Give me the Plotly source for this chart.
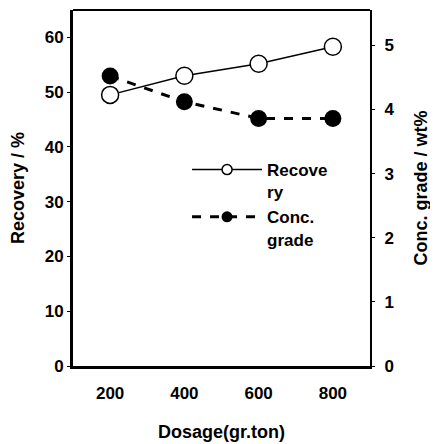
import plotly.graph_objects as go

dosage = [200, 400, 600, 800]
recovery = [49.5, 53.0, 55.2, 58.3]
conc_grade = [4.52, 4.12, 3.86, 3.86]

x_ticks = [200, 400, 600, 800]
left_ticks = [0, 10, 20, 30, 40, 50, 60]
right_ticks = [0, 1, 2, 3, 4, 5]

FONT = "Liberation Sans"

fig = go.Figure()
fig.add_trace(go.Scatter(
    x=dosage, y=recovery, name="Recovery", mode="lines+markers", showlegend=False,
    line=dict(color="black", width=1.5),
    marker=dict(symbol="circle", size=17, color="white", line=dict(color="black", width=1.5)),
))
fig.add_trace(go.Scatter(
    x=dosage, y=conc_grade, name="Conc. grade", mode="lines+markers", yaxis="y2", showlegend=False,
    line=dict(color="black", width=3, dash="dash"),
    marker=dict(symbol="circle", size=17, color="black"),
))
# legend-only entries (smaller symbols, as in the reference legend)
fig.add_trace(go.Scatter(
    x=[None], y=[None], name="<b>Recove<br>ry</b>", mode="lines+markers",
    line=dict(color="black", width=1.5),
    marker=dict(symbol="circle", size=10, color="white", line=dict(color="black", width=1.5)),
))
fig.add_trace(go.Scatter(
    x=[None], y=[None], name="<b>Conc.<br>grade</b>", mode="lines+markers", yaxis="y2",
    line=dict(color="black", width=3, dash="dash"),
    marker=dict(symbol="circle", size=11, color="black"),
))

fig.update_layout(
    width=430, height=436,
    margin=dict(l=65, r=68, t=2, b=78),
    paper_bgcolor="white", plot_bgcolor="white",
    font=dict(family=FONT, size=17, color="black"),
    showlegend=True,
    legend=dict(x=0.384, y=0.601, xanchor="left", yanchor="top", valign="top",
                bgcolor="rgba(0,0,0,0)", itemwidth=70,
                font=dict(family=FONT, size=17, color="black")),
    xaxis=dict(range=[100, 900], tickvals=x_ticks, ticktext=[f"<b>{v}</b>" for v in x_ticks],
               showgrid=False, zeroline=False, showline=True, linecolor="black", linewidth=3,
               ticks="", ticklabelstandoff=10,
               title=dict(text="<b>Dosage(gr.ton)</b>", font=dict(size=18), standoff=23)),
    yaxis=dict(range=[0, 65], tickvals=left_ticks, ticktext=[f"<b>{v}</b>" for v in left_ticks],
               showgrid=False, zeroline=False, showline=True, linecolor="black", linewidth=3,
               ticks="outside", ticklen=3, tickcolor="black",
               title=dict(text="<b>Recovery / %</b>", font=dict(size=18), standoff=20)),
    yaxis2=dict(range=[0, 5.55], overlaying="y", side="right",
                tickvals=right_ticks, ticktext=[f"<b>{v}</b>" for v in right_ticks],
                showgrid=False, zeroline=False, showline=True, linecolor="black", linewidth=2,
                ticks="outside", ticklen=3, tickcolor="black", ticklabelstandoff=6,
                title=dict(text="<b>Conc. grade / wt%</b>", font=dict(size=18), standoff=21)),
    shapes=[dict(type="line", xref="paper", yref="paper", x0=0, x1=1, y0=1, y1=1,
                 line=dict(color="black", width=2))],
)

fig.write_html("out.html")
